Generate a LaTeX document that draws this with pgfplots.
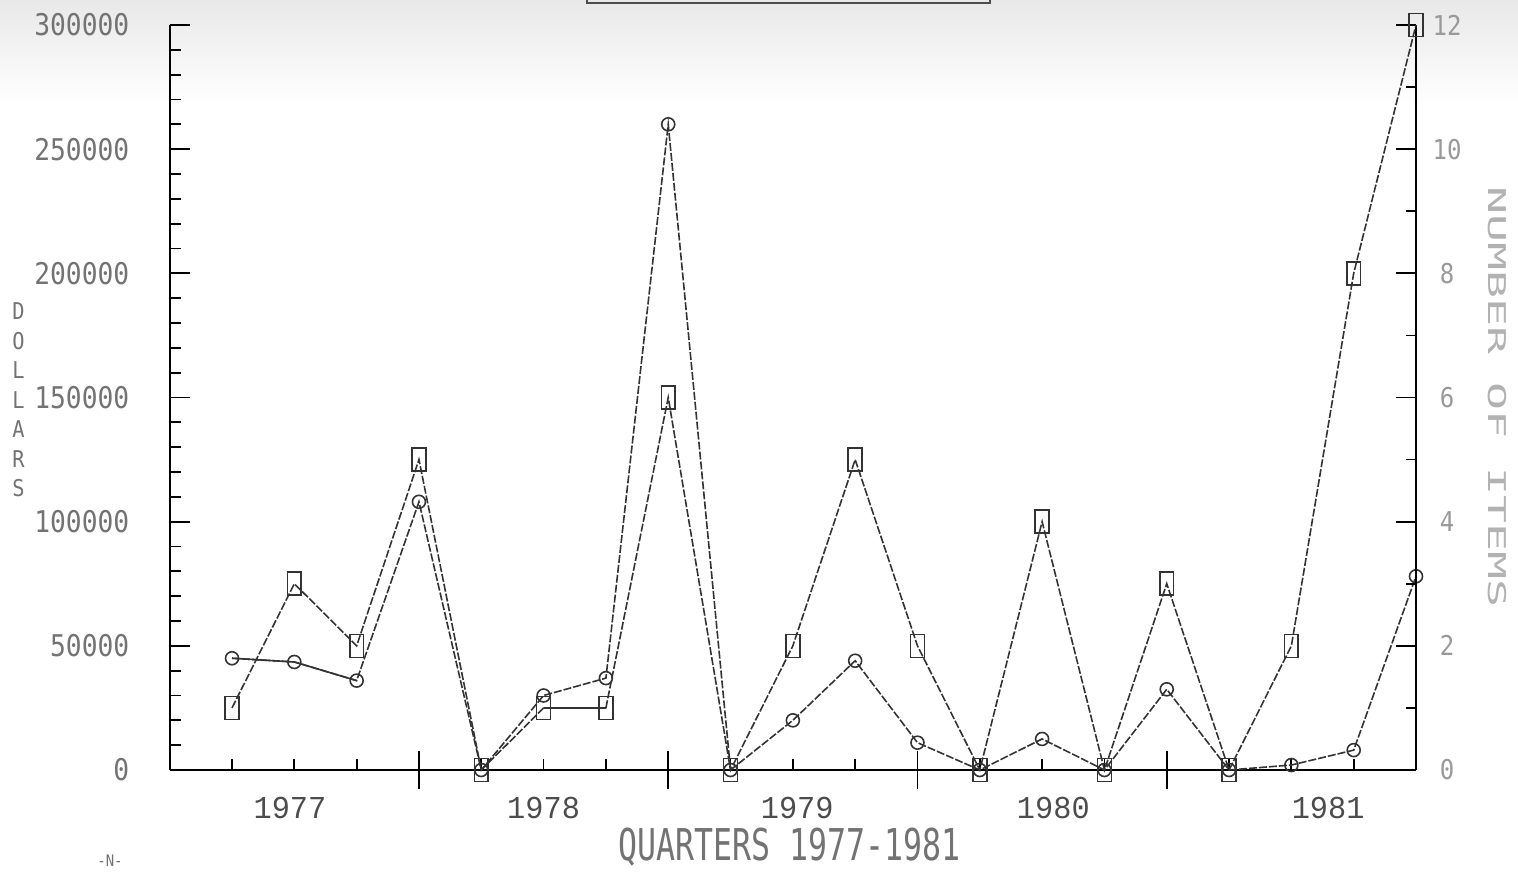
\documentclass[border=0pt]{standalone}
\usepackage{pgfplots}
\usepackage{pgfplotstable}
\pgfplotsset{compat=1.18}
\usepackage{fontspec}
\newfontfamily\plotfont[FakeStretch=0.88]{DejaVu Sans Mono}
\newfontfamily\narrowfont[FakeStretch=0.72]{DejaVu Sans Mono}
\newfontfamily\widefont[FakeStretch=1.9]{DejaVu Sans Mono}
\newfontfamily\yearfont[FakeStretch=0.95]{Liberation Mono}

% quarter, dollars spent, number of items
\pgfplotstableread{
q  dollars items
1  45000   1
2  43500   3
3  36000   2
4  108000  5
5  0       0
6  30000   1
7  37000   1
8  260000  6
9  0       0
10 20000   2
11 44000   5
12 11000   2
13 0       0
14 12500   4
15 0       0
16 32500   3
17 0       0
18 2000    2
19 8000    8
20 78000   12
}\qdata

\definecolor{ink}{HTML}{333333}

\tikzset{year/.style={font=\yearfont\fontsize{16}{16}\selectfont, text=black!70, yshift=-19bp}}

\pgfplotsset{
  common/.style={
    at={(84.85bp,51.5bp)}, anchor=south west,
    scale only axis, width=623.15bp, height=372.5bp,
    xmin=0, xmax=20, clip=false,
    axis line style={line width=1bp, black},
    every tick/.style={black, line width=0.9bp},
    tick align=inside,
    scaled y ticks=false, scaled x ticks=false,
  },
  series/.style={ink, line width=0.8bp, dash pattern=on 4bp off 1bp},
}

\begin{document}
\begin{tikzpicture}
\useasboundingbox (0,0) rectangle (759bp,436.5bp);
% slight grey band along the top of the sheet
\fill[top color=black!9, bottom color=white, draw=none] (0,385bp) rectangle (759bp,436.5bp);
% bottom edge of the title box
\draw[line width=1bp, black!70] (293.5bp,450bp) -- (293.5bp,435bp) -- (495bp,435bp) -- (495bp,450bp);

% dollars, left scale
\begin{axis}[common,
  ymin=0, ymax=300000,
  axis x line*=bottom, axis y line*=left,
  major tick length=5.5bp,
  xtick={1,2,3,5,6,7,9,10,11,13,14,15,17,18,19},
  xticklabels={},
  extra x ticks={4,8,12,16}, extra x tick labels={},
  extra x tick style={tick align=center, major tick length=19bp, line width=1.3bp},
  ytick={10000,20000,...,290000},
  yticklabels={},
  extra y ticks={0,50000,100000,150000,200000,250000,300000},
  extra y tick labels={0,50000,100000,150000,200000,250000,300000},
  extra y tick style={major tick length=10bp},
  yticklabel style={anchor=east, inner sep=0pt, xshift=-20bp,
    font=\plotfont\fontsize{15}{15}\selectfont, text=black!55},
]
\addplot[series, mark=o, mark size=3.25bp, mark options={solid}]
  table[x=q, y=dollars]{\qdata};
\addplot[ink, line width=0.8bp, solid, no marks, restrict x to domain=1:3]
  table[x=q, y=dollars]{\qdata};

\node[year] at (axis cs:1.93,0)  {1977};
\node[year] at (axis cs:6.0,0)   {1978};
\node[year] at (axis cs:10.07,0) {1979};
\node[year] at (axis cs:14.18,0) {1980};
\node[year] at (axis cs:18.59,0) {1981};
\end{axis}

% number of items, right scale
\begin{axis}[common,
  ymin=0, ymax=12,
  axis x line=none, axis y line*=right,
  ytick={0,2,...,12}, minor y tick num=1,
  major tick length=10bp, minor tick length=5bp,
  yticklabel style={anchor=center, inner sep=0pt, xshift=15.5bp,
    font=\plotfont\fontsize{13.7}{13.7}\selectfont, text=black!40},
  yticklabels={0,2,4,6,8,10,12},
]
\addplot[series, mark=square, mark size=5.75bp, mark options={solid, xscale=0.6}]
  table[x=q, y=items]{\qdata};
\addplot[ink, line width=0.8bp, solid, no marks, restrict x to domain=6:7]
  table[x=q, y=items]{\qdata};
\end{axis}

% axis titles
\node[align=center, inner sep=0pt, text=black!55,
      font=\plotfont\fontsize{11.6}{14.8}\selectfont]
  at (9.25bp,236.5bp) {D\\O\\L\\L\\A\\R\\S};
\node[rotate=-90, inner sep=0pt, text=black!30,
      font=\widefont\fontsize{12.3}{12.3}\selectfont]
  at (748.5bp,238bp) {NUMBER OF ITEMS};
\node[inner sep=0pt, text=black!55,
      font=\narrowfont\fontsize{22}{22}\selectfont]
  at (395bp,13bp) {QUARTERS 1977-1981};
\node[inner sep=0pt, text=black!55, font=\plotfont\fontsize{8}{8}\selectfont]
  at (55bp,6bp) {-N-};
\end{tikzpicture}
\end{document}
